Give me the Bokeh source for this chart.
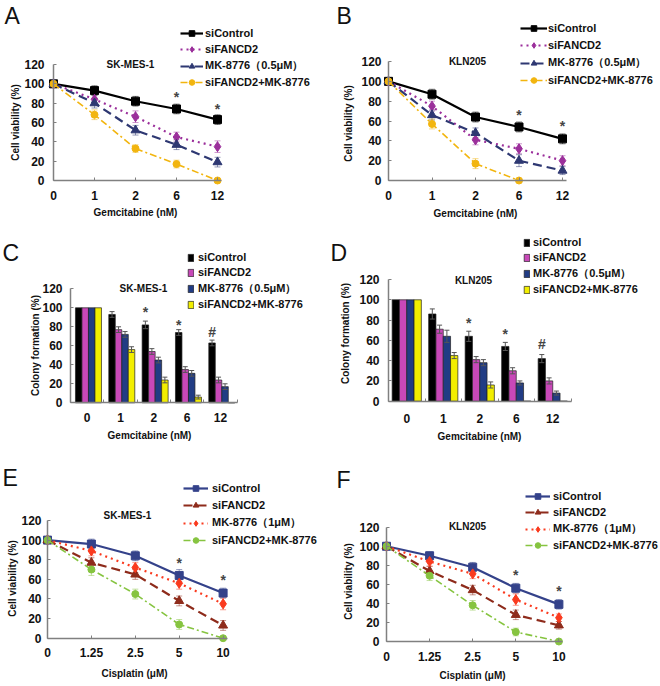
import math
import numpy as np
from bokeh.plotting import figure
from bokeh.models import (Range1d, FixedTicker, Legend, LegendItem, Whisker, TeeHead,
                          Label, ColumnDataSource)
from bokeh.layouts import column, row
from bokeh.embed import file_html
from bokeh.resources import INLINE
from bokeh.core.properties import value

FONT = "Liberation Sans"
AXC = "#808080"
NAN = float("nan")

# ---------------- data ----------------
gem_doses = ["0", "1", "2", "6", "12"]
cis_doses = ["0", "1.25", "2.5", "5", "10"]
gem_series = ["siControl", "siFANCD2", "MK-8776（0.5μM）", "siFANCD2+MK-8776"]
cis_series = ["siControl", "siFANCD2", "MK-8776（1μM）", "siFANCD2+MK-8776"]

# A: SK-MES-1, gemcitabine, cell viability
a_ctrl = [100, 93, 82, 74, 63]
a_fan = [100, 84, 66, 45, 35]
a_mk = [100, 80, 52, 37, 19]
a_combo = [100, 68, 33, 17, 0]
a_ctrl_err = [2, 5, 5, 5, 5]
a_fan_err = [2, 5, 6, 5, 6]
a_mk_err = [2, 5, 5, 5, 5]
a_combo_err = [2, 5, 4, 4, 0]
a_star_idx = [3, 4]
a_star_y = [86, 74]
a_star_txt = ["*", "*"]

# B: KLN205, gemcitabine, cell viability
b_ctrl = [100, 87, 64, 54, 42]
b_fan = [100, 75, 41, 32, 20]
b_mk = [100, 66, 48, 20, 10]
b_combo = [100, 57, 17, 0, NAN]
b_ctrl_err = [2, 5, 5, 5, 5]
b_fan_err = [2, 5, 5, 5, 5]
b_mk_err = [2, 5, 5, 6, 4]
b_combo_err = [2, 5, 5, 0, NAN]
b_star_idx = [3, 4]
b_star_y = [66, 55]
b_star_txt = ["*", "*"]

# C: SK-MES-1, gemcitabine, colony formation
c_ctrl = [100, 93, 82, 74, 63]
c_fan = [100, 77, 54, 35, 24]
c_mk = [100, 72, 45, 31, 17]
c_combo = [100, 56, 24, 6, 0]
c_ctrl_err = [0, 3, 4, 3, 3]
c_fan_err = [0, 3, 3, 3, 3]
c_mk_err = [0, 3, 3, 3, 3]
c_combo_err = [0, 3, 3, 2, 0]
c_star_idx = [2, 3, 4]
c_star_y = [96, 82, 75]
c_star_txt = ["*", "*", "#"]

# D: KLN205, gemcitabine, colony formation
d_ctrl = [100, 86, 64, 54, 42]
d_fan = [100, 71, 41, 30, 20]
d_mk = [100, 64, 38, 18, 8]
d_combo = [100, 45, 16, 0, 0]
d_ctrl_err = [0, 5, 5, 4, 4]
d_fan_err = [0, 4, 3, 3, 3]
d_mk_err = [0, 6, 3, 2, 2]
d_combo_err = [0, 3, 3, 0, 0]
d_star_idx = [2, 3, 4]
d_star_y = [77, 66, 56]
d_star_txt = ["*", "*", "#"]

# E: SK-MES-1, cisplatin, cell viability
e_ctrl = [100, 96, 84, 64, 46]
e_fan = [100, 77, 65, 38, 13]
e_mk = [100, 89, 72, 56, 35]
e_combo = [100, 70, 45, 14, 0]
e_ctrl_err = [2, 5, 5, 6, 5]
e_fan_err = [2, 5, 5, 5, 5]
e_mk_err = [2, 5, 5, 6, 6]
e_combo_err = [2, 6, 5, 5, 0]
e_star_idx = [3, 4]
e_star_y = [77, 59]
e_star_txt = ["*", "*"]

# F: KLN205, cisplatin, cell viability
f_ctrl = [100, 90, 78, 56, 39]
f_fan = [100, 74, 54, 28, 17]
f_mk = [100, 84, 71, 44, 25]
f_combo = [100, 69, 38, 10, 0]
f_ctrl_err = [2, 4, 5, 5, 5]
f_fan_err = [2, 5, 5, 5, 4]
f_mk_err = [2, 5, 5, 6, 4]
f_combo_err = [2, 5, 5, 4, 0]
f_star_idx = [3, 4]
f_star_y = [70, 53]
f_star_txt = ["*", "*"]

# ---------------- styles ----------------
gem_styles = [
    dict(color="#000000", dash="solid", width=2.2, marker="square", size=8),
    dict(color="#9b2f9b", dash="2 4", width=2.2, marker="diamond", size=10),
    dict(color="#2e3872", dash="9 5", width=2.2, marker="triangle", size=9),
    dict(color="#f2b50f", dash="7 3 2 3", width=1.6, marker="circle", size=7),
]
cis_styles = [
    dict(color="#34428a", dash="solid", width=2.2, marker="square", size=8),
    dict(color="#8e2b1b", dash="9 5", width=2.2, marker="triangle", size=9),
    dict(color="#fa3a1e", dash="2 4", width=2.2, marker="diamond", size=10),
    dict(color="#86c440", dash="7 3 2 3", width=1.6, marker="circle", size=7),
]
bar_styles = [dict(color=c) for c in ["#000000", "#c848b8", "#213c84", "#f2ee00"]]


def make_panel(kind, W, H, off, g, doses, vals, errs, names, styles, stars,
               cell, letter, xtitle, ytitle):
    offx, offy = off
    ncat = len(doses)
    xs = g["dx"]
    k = (g["y0"] - g["y120"]) / 120.0
    x_at0 = g["x0"]

    def X(rx):
        return (rx - x_at0) / xs

    def Y(ry):
        return (g["y0"] - ry) / k

    p = figure(width=W, height=H,
               x_range=Range1d(X(offx), X(offx + W)),
               y_range=Range1d(Y(offy + H), Y(offy)),
               output_backend="svg", toolbar_location=None,
               min_border_left=0, min_border_right=0,
               min_border_top=0, min_border_bottom=0)
    p.xgrid.visible = False
    p.ygrid.visible = False
    p.outline_line_color = None
    p.background_fill_color = "white"
    p.border_fill_color = "white"

    # y axis (drawn inside the frame at x = 0)
    ya = p.yaxis[0]
    ya.fixed_location = 0
    ya.ticker = FixedTicker(ticks=[0, 20, 40, 60, 80, 100, 120])
    ya.bounds = (0, 120)
    ya.axis_line_color = AXC
    ya.axis_line_width = 1.5
    ya.major_tick_in = 3
    ya.major_tick_out = 0
    ya.major_tick_line_color = AXC
    ya.minor_tick_line_color = None
    ya.major_label_text_font = FONT
    ya.major_label_text_font_size = "12px"
    ya.major_label_text_font_style = "bold"
    ya.major_label_text_color = "#111111"
    ya.major_label_standoff = g["ylab_so"]

    # x axis (drawn inside the frame at y = 0)
    xa = p.xaxis[0]
    xa.fixed_location = 0
    xa.axis_line_color = AXC
    xa.axis_line_width = 1.5
    xa.major_label_text_font = FONT
    xa.major_label_text_font_size = "12px"
    xa.major_label_text_font_style = "bold"
    xa.major_label_text_color = "#111111"
    xa.major_label_standoff = g["xlab_so"]
    idx = list(range(ncat))
    if kind == "line":
        xa.ticker = FixedTicker(ticks=idx)
        xa.major_label_overrides = {i: d for i, d in zip(idx, doses)}
        xa.bounds = (0, ncat - 1 + 4.0 / xs)
        xa.major_tick_in = 3
        xa.major_tick_out = 0
        xa.major_tick_line_color = AXC
        xa.minor_tick_line_color = None
    else:
        centers = [i + 0.5 for i in idx]
        xa.ticker = FixedTicker(ticks=centers, minor_ticks=list(range(ncat + 1)))
        xa.major_label_overrides = {c: d for c, d in zip(centers, doses)}
        xa.bounds = (0, ncat)
        xa.major_tick_in = 0
        xa.major_tick_out = 0
        xa.minor_tick_in = 3
        xa.minor_tick_out = 0
        xa.minor_tick_line_color = AXC

    items = []
    if kind == "line":
        for j in range(4):
            st = styles[j]
            v = np.array(vals[j], dtype=float)
            e = np.array(errs[j], dtype=float)
            src = ColumnDataSource(dict(x=idx, y=v))
            keep = np.isfinite(e) & np.isfinite(v) & (e > 0)
            wsrc = ColumnDataSource(dict(x=np.array(idx)[keep], upper=(v + e)[keep],
                                         lower=(v - e)[keep]))
            p.add_layout(Whisker(source=wsrc, base="x", upper="upper", lower="lower",
                                 line_color=st["color"], line_alpha=0.5, line_width=1,
                                 upper_head=TeeHead(size=6, line_color=st["color"], line_alpha=0.5),
                                 lower_head=TeeHead(size=6, line_color=st["color"], line_alpha=0.5),
                                 level="underlay"))
            lr = p.line("x", "y", source=src, line_color=st["color"], line_width=st["width"],
                        line_dash=st["dash"])
            sr = p.scatter("x", "y", source=src, marker=st["marker"], size=st["size"],
                           fill_color=st["color"], line_color=st["color"])
            items.append(LegendItem(label=names[j], renderers=[lr, sr]))
        star_x = list(stars[0])
    else:
        bw = g["bw"] / xs
        shift = g.get("shift", 0) / xs
        for j in range(4):
            st = styles[j]
            offj = (j - 1.5) * bw + shift
            xpos = [i + 0.5 + offj for i in idx]
            v = np.array(vals[j], dtype=float)
            e = np.array(errs[j], dtype=float)
            src = ColumnDataSource(dict(x=xpos, top=v))
            vr = p.vbar(x="x", top="top", bottom=0, width=bw, source=src,
                        fill_color=st["color"], line_color="#222222", line_width=0.7)
            keep = np.isfinite(e) & (e > 0)
            wsrc = ColumnDataSource(dict(x=np.array(xpos)[keep], upper=(v + e)[keep],
                                         lower=(v - e)[keep]))
            p.add_layout(Whisker(source=wsrc, base="x", upper="upper", lower="lower",
                                 line_color="#555555", line_width=1,
                                 upper_head=TeeHead(size=5, line_color="#555555"),
                                 lower_head=TeeHead(size=5, line_color="#555555"),
                                 level="overlay"))
            items.append(LegendItem(label=names[j], renderers=[vr]))
        star_x = [i + 0.5 - 1.5 * bw + shift for i in stars[0]]

    # significance marks
    p.text(x=star_x, y=list(stars[1]), text=list(stars[2]), text_font=value(FONT),
           text_font_size=value("14px"), text_font_style="bold", text_color="#444444",
           text_align="center", text_baseline="middle")

    # legend
    rowh, sp = g["leg_rowh"], g["leg_sp"]
    leg_h = 4 * rowh + 3 * sp
    top_ref = g["leg_y0"] - rowh / 2.0
    lx = g["leg_x"] - offx
    ly = (offy + H) - (top_ref + leg_h) - 2
    leg = Legend(items=items, location=(lx, ly), orientation="vertical",
                 glyph_width=g["leg_gw"], glyph_height=g["leg_gh"],
                 label_height=rowh, label_width=10, label_standoff=g["leg_so"],
                 spacing=sp, padding=0, margin=0, border_line_color=None,
                 background_fill_alpha=0, label_text_font=FONT,
                 label_text_font_size="11px", label_text_font_style="bold",
                 label_text_color="#111111")
    p.add_layout(leg)

    def lab(rx, ry, text, size, style="bold", align="center", baseline="middle", angle=0.0):
        p.add_layout(Label(x=X(rx), y=Y(ry), text=text, text_font=FONT, text_font_size=size,
                           text_font_style=style, text_align=align, text_baseline=baseline,
                           angle=angle, text_color="#111111"))

    lab(g["cell"][0], g["cell"][1], cell, "10px")
    lab(g["letter"][0], g["letter"][1], letter, "23px", style="normal", align="left",
        baseline="top")
    lab(g["xt"][0], g["xt"][1], xtitle, "10px")
    lab(g["yt"][0], g["yt"][1], ytitle, "10px", angle=math.pi / 2)
    return p


W = 330
H1, H2, H3 = 225, 230, 231

gA = dict(x0=53, dx=41, y0=180, y120=64,
          ylab_so=9, xlab_so=10, leg_x=180, leg_y0=32, leg_rowh=14, leg_sp=2,
          leg_gw=23, leg_gh=14, leg_so=2, cell=(130, 64), letter=(4, 2),
          xt=(135, 212), yt=(15, 122))
gB = dict(x0=388, dx=43.5, y0=180, y120=61,
          ylab_so=7, xlab_so=10, leg_x=520, leg_y0=27, leg_rowh=14, leg_sp=3,
          leg_gw=27, leg_gh=14, leg_so=1, cell=(467, 61), letter=(336, 2),
          xt=(475, 213), yt=(348, 123))
gC = dict(x0=70, dx=33.33, y0=402.3, y120=288.3, bw=6.5, shift=1.3,
          ylab_so=8, xlab_so=10, leg_x=187, leg_y0=257, leg_rowh=13, leg_sp=2,
          leg_gw=7, leg_gh=9, leg_so=4, cell=(143, 288), letter=(2, 239),
          xt=(149, 435), yt=(35, 345))
gD = dict(x0=388, dx=36.5, y0=400.7, y120=279, bw=7.3, shift=0,
          ylab_so=9, xlab_so=13, leg_x=523, leg_y0=242, leg_rowh=13, leg_sp=2,
          leg_gw=7, leg_gh=9, leg_so=3, cell=(473, 280), letter=(330, 239),
          xt=(479, 436), yt=(345, 333))
gE = dict(x0=47, dx=43.9, y0=637.7, y120=520,
          ylab_so=6, xlab_so=10, leg_x=183, leg_y0=487, leg_rowh=14, leg_sp=3,
          leg_gw=25, leg_gh=14, leg_so=4, cell=(127, 515), letter=(2, 464),
          xt=(134, 673), yt=(12, 578))
gF = dict(x0=386, dx=43.1, y0=641, y120=526.7,
          ylab_so=7, xlab_so=10, leg_x=525, leg_y0=495, leg_rowh=14, leg_sp=2,
          leg_gw=25, leg_gh=14, leg_so=3, cell=(467, 526), letter=(336, 466),
          xt=(472, 675), yt=(348, 581))

pA = make_panel("line", W, H1, (0, 0), gA, gem_doses,
                [a_ctrl, a_fan, a_mk, a_combo], [a_ctrl_err, a_fan_err, a_mk_err, a_combo_err],
                gem_series, gem_styles, (a_star_idx, a_star_y, a_star_txt),
                "SK-MES-1", "A", "Gemcitabine (nM)", "Cell viability (%)")
pB = make_panel("line", W, H1, (330, 0), gB, gem_doses,
                [b_ctrl, b_fan, b_mk, b_combo], [b_ctrl_err, b_fan_err, b_mk_err, b_combo_err],
                gem_series, gem_styles, (b_star_idx, b_star_y, b_star_txt),
                "KLN205", "B", "Gemcitabine (nM)", "Cell viability (%)")
pC = make_panel("bar", W, H2, (0, 225), gC, gem_doses,
                [c_ctrl, c_fan, c_mk, c_combo], [c_ctrl_err, c_fan_err, c_mk_err, c_combo_err],
                gem_series, bar_styles, (c_star_idx, c_star_y, c_star_txt),
                "SK-MES-1", "C", "Gemcitabine (nM)", "Colony formation (%)")
pD = make_panel("bar", W, H2, (330, 225), gD, gem_doses,
                [d_ctrl, d_fan, d_mk, d_combo], [d_ctrl_err, d_fan_err, d_mk_err, d_combo_err],
                gem_series, bar_styles, (d_star_idx, d_star_y, d_star_txt),
                "KLN205", "D", "Gemcitabine (nM)", "Colony formation (%)")
pE = make_panel("line", W, H3, (0, 455), gE, cis_doses,
                [e_ctrl, e_fan, e_mk, e_combo], [e_ctrl_err, e_fan_err, e_mk_err, e_combo_err],
                cis_series, cis_styles, (e_star_idx, e_star_y, e_star_txt),
                "SK-MES-1", "E", "Cisplatin (μM)", "Cell viability (%)")
pF = make_panel("line", W, H3, (330, 455), gF, cis_doses,
                [f_ctrl, f_fan, f_mk, f_combo], [f_ctrl_err, f_fan_err, f_mk_err, f_combo_err],
                cis_series, cis_styles, (f_star_idx, f_star_y, f_star_txt),
                "KLN205", "F", "Cisplatin (μM)", "Cell viability (%)")

layout = column(row(pA, pB), row(pC, pD), row(pE, pF))
open("out.html", "w").write(file_html(layout, INLINE))
